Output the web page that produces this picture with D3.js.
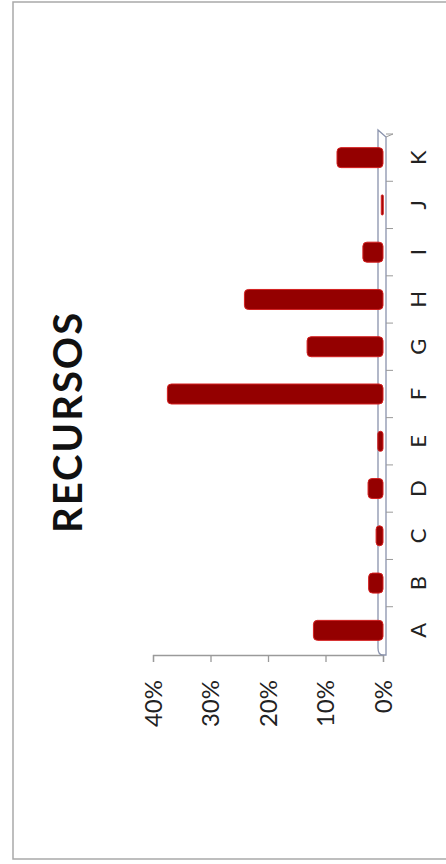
<!DOCTYPE html>
<html>
<head>
<meta charset="utf-8">
<script src="https://cdn.jsdelivr.net/npm/d3@7"></script>
<style>
  body { margin: 0; background: #fff; }
  svg { display: block; }
</style>
</head>
<body>
<svg id="chart"></svg>
<script>
var categories = ['A','B','C','D','E','F','G','H','I','J','K']
var values = [12.1, 2.5, 1.2, 2.6, 0.9, 37.5, 13.2, 24.1, 3.5, 0.3, 8.0]
var tickValues = [0, 10, 20, 30, 40]
var title = 'RECURSOS'

var W = 446, H = 864

var svg = d3.select('#chart')
  .attr('width', W)
  .attr('height', H)

// scanned page frame
svg.append('rect')
  .attr('x', 13).attr('y', 2)
  .attr('width', 460).attr('height', 857)
  .attr('fill', '#fff')
  .attr('stroke', '#a9a9a9')
  .attr('stroke-width', 1.5)

// the whole chart is turned a quarter: values run right-to-left, categories bottom-to-top
var x = d3.scaleLinear()
  .domain([0, 40])
  .range([383, 153])

var y = d3.scaleBand()
  .domain(categories)
  .range([654, 134])

var barH = 20

// value axis
var xAxis = svg.append('g')
  .attr('transform', 'translate(0,655)')
  .call(d3.axisBottom(x).tickValues(tickValues).tickSize(7).tickFormat(''))
xAxis.select('.domain').attr('stroke', '#9a9a9a').attr('stroke-width', 1.3)
xAxis.selectAll('.tick line').attr('stroke', '#9a9a9a').attr('stroke-width', 1.3)

svg.append('g')
  .selectAll('text')
  .data(tickValues)
  .enter()
  .append('text')
    .attr('transform', d => 'translate(' + x(d) + ',680) rotate(-90)')
    .attr('dy', '0.36em')
    .attr('text-anchor', 'end')
    .attr('font-family', 'Lato, "Open Sans", sans-serif')
    .attr('font-size', 24)
    .attr('fill', '#222')
    .text(d => d + '%')

// 3d floor (the category axis)
var floor = svg.append('g')
  .attr('fill', 'none')
  .attr('stroke', '#8a93ad')
  .attr('stroke-width', 1.3)

floor.append('path')
  .attr('d', 'M378,130 L378,648 Q378,655 383,655 L386,655 L386,137 Z')

var catAxis = svg.append('g')
  .attr('transform', 'translate(386,0)')
  .call(d3.axisRight(y).tickSize(0).tickFormat(''))
catAxis.select('.domain').remove()

svg.append('g')
  .selectAll('line')
  .data(categories.slice(1).concat(['end']))
  .enter()
  .append('line')
    .attr('x1', 386).attr('x2', 393)
    .attr('y1', (d, i) => y(categories[i]))
    .attr('y2', (d, i) => y(categories[i]))
    .attr('stroke', '#9a9a9a')
    .attr('stroke-width', 1)

svg.append('line')
  .attr('x1', 386).attr('x2', 393)
  .attr('y1', 137).attr('y2', 134)
  .attr('stroke', '#9a9a9a')

// bars
svg.append('g')
  .selectAll('rect')
  .data(values)
  .enter()
  .append('rect')
    .attr('x', d => x(d))
    .attr('y', (d, i) => y(categories[i]) + y.bandwidth() / 2 - barH / 2)
    .attr('width', d => Math.max(2, x(0) - x(d)))
    .attr('height', barH)
    .attr('rx', d => Math.min(4, (x(0) - x(d)) / 2))
    .attr('fill', '#940000')
    .attr('stroke', '#d42020')
    .attr('stroke-width', 1)

// category labels
svg.append('g')
  .selectAll('text')
  .data(categories)
  .enter()
  .append('text')
    .attr('transform', d => 'translate(418,' + (y(d) + y.bandwidth() / 2) + ') rotate(-90)')
    .attr('dy', '0.36em')
    .attr('text-anchor', 'middle')
    .attr('font-family', 'Lato, "Open Sans", sans-serif')
    .attr('font-size', 22)
    .attr('fill', '#222')
    .text(d => d)

// title
svg.append('text')
  .attr('transform', 'translate(68,422) rotate(-90)')
  .attr('dy', '0.36em')
  .attr('text-anchor', 'middle')
  .attr('font-family', 'Lato, "Open Sans", sans-serif')
  .attr('font-weight', 'bold')
  .attr('font-size', 40)
  .attr('letter-spacing', 2)
  .attr('fill', '#111')
  .text(title)
</script>
</body>
</html>
